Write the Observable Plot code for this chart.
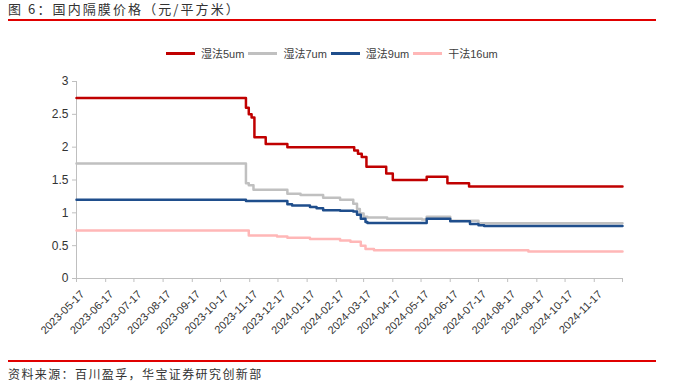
<!DOCTYPE html>
<html>
<head>
<meta charset="utf-8">
<script src="https://cdn.jsdelivr.net/npm/d3@7"></script>
<script src="https://cdn.jsdelivr.net/npm/@observablehq/plot@0.6"></script>
<style>
  html, body { margin: 0; padding: 0; background: #fff; }
  body { width: 690px; height: 387px; position: relative; overflow: hidden;
         font-family: "Liberation Sans", Arial, "Noto Sans CJK SC", sans-serif; color: #333; }
  #title { position: absolute; left: 8px; top: 0px; font-size: 13px; letter-spacing: 2.1px;
           font-family: "Noto Sans CJK SC", sans-serif; color: #333; line-height: 18px; }
  .redline { position: absolute; left: 8px; width: 648px; height: 2px; background: #e00000; }
  #legend { position: absolute; left: 166px; top: 45px; display: flex; align-items: center;
            font-size: 11px; color: #404040; white-space: nowrap; }
  #legend .item { display: flex; align-items: center; margin-right: 4px; }
  #legend .sw { width: 29px; height: 3px; margin-right: 6px; }
  #legend .zh { font-family: "Noto Sans CJK SC", sans-serif; }
  #chart { position: absolute; left: 0; top: 40px; }
  #source { position: absolute; left: 8px; top: 365px; font-size: 12px; letter-spacing: 1.4px;
            font-family: "Noto Sans CJK SC", sans-serif; color: #333; line-height: 18px; }
</style>
</head>
<body>
<div id="title">图 6：国内隔膜价格（元/平方米）</div>
<div class="redline" style="top:19px"></div>
<div id="legend"></div>
<div id="chart"></div>
<div class="redline" style="top:360px"></div>
<div id="source">资料来源：百川盈孚，华宝证券研究创新部</div>
<script>
// ---- data ----
const seriesNames = ["湿法5um", "湿法7um", "湿法9um", "干法16um"];
const seriesColors = ["#c00000", "#c0c0c0", "#1f4e8c", "#ffb7b7"];

const wet5Dates = ["2023-05-17","2023-11-13","2023-11-16","2023-11-19","2023-11-22","2023-12-04","2023-12-27",
  "2024-03-07","2024-03-11","2024-03-15","2024-03-20","2024-04-10","2024-04-17","2024-05-23","2024-06-14","2024-07-07","2024-12-17"];
const wet5Values = [2.75,2.6,2.5,2.45,2.15,2.05,2.0,1.95,1.9,1.85,1.7,1.6,1.5,1.55,1.45,1.4,1.4];

const wet7Dates = ["2023-05-17","2023-11-13","2023-11-16","2023-11-21","2023-12-27","2024-01-10","2024-02-03",
  "2024-02-21","2024-03-06","2024-03-10","2024-03-13","2024-03-17","2024-03-21","2024-04-11","2024-05-18","2024-05-23","2024-06-17","2024-07-17","2024-12-17"];
const wet7Values = [1.75,1.45,1.42,1.35,1.29,1.27,1.23,1.2,1.14,1.06,0.99,0.94,0.93,0.91,0.9,0.94,0.88,0.84,0.84];

const wet9Dates = ["2023-05-17","2023-11-13","2023-12-27","2024-01-01","2024-01-20","2024-01-27","2024-02-03",
  "2024-02-21","2024-03-06","2024-03-10","2024-03-14","2024-03-19","2024-03-21","2024-05-23","2024-06-17","2024-07-08","2024-07-17","2024-07-23","2024-12-17"];
const wet9Values = [1.2,1.18,1.13,1.11,1.09,1.07,1.04,1.03,1.02,0.97,0.91,0.86,0.845,0.91,0.87,0.83,0.81,0.8,0.8];

const dry16Dates = ["2023-05-17","2023-11-16","2023-12-16","2023-12-27","2024-01-20","2024-02-21","2024-03-03",
  "2024-03-14","2024-03-19","2024-03-28","2024-09-08","2024-12-17"];
const dry16Values = [0.73,0.655,0.64,0.62,0.6,0.58,0.56,0.5,0.45,0.43,0.41,0.41];

const xTickLabels = ["2023-05-17","2023-06-17","2023-07-17","2023-08-17","2023-09-17","2023-10-17","2023-11-17",
  "2023-12-17","2024-01-17","2024-02-17","2024-03-17","2024-04-17","2024-05-17","2024-06-17","2024-07-17",
  "2024-08-17","2024-09-17","2024-10-17","2024-11-17"];
const xAxisEnd = "2024-12-17";
const yTicks = [0, 0.5, 1, 1.5, 2, 2.5, 3];

// ---- build ----
const parse = d3.utcParse("%Y-%m-%d");
const allDates = [wet5Dates, wet7Dates, wet9Dates, dry16Dates];
const allValues = [wet5Values, wet7Values, wet9Values, dry16Values];
const rows = [];
seriesNames.forEach((name, k) => {
  allDates[k].forEach((d, i) => rows.push({series: name, date: parse(d), value: allValues[k][i]}));
});
const tickDates = xTickLabels.map(parse).concat([parse(xAxisEnd)]);
const labelSet = new Set(xTickLabels.map(s => +parse(s)));
const fmt = d3.utcFormat("%Y-%m-%d");
const xDomain = [parse(xTickLabels[0]), parse(xAxisEnd)];

const plot = Plot.plot({
  width: 690,
  height: 300,
  marginTop: 41,
  marginBottom: 62,
  marginLeft: 76,
  marginRight: 68,
  style: {fontFamily: "'Liberation Sans', Arial, sans-serif", color: "#333", background: "transparent"},
  x: {type: "utc", domain: xDomain},
  y: {domain: [0, 3]},
  color: {domain: seriesNames, range: seriesColors},
  marks: [
    Plot.ruleY([0], {stroke: "#bfbfbf", strokeWidth: 1}),
    Plot.ruleX([xDomain[0]], {stroke: "#bfbfbf", strokeWidth: 1}),
    Plot.axisY({ticks: yTicks, tickFormat: d => String(d), tickSize: 4, tickPadding: 4, stroke: "#bfbfbf",
                fontSize: 12, fill: "#333", label: null}),
    Plot.axisX({ticks: tickDates, tickSize: 4, tickFormat: null, text: null, stroke: "#bfbfbf", label: null}),
    Plot.axisX({ticks: tickDates, tickFormat: d => labelSet.has(+d) ? fmt(d) : "", tickSize: 0, tickPadding: 14,
                dx: 6, tickRotate: -45, fontSize: 11, fill: "#333", label: null}),
    Plot.line(rows, {x: "date", y: "value", z: "series", stroke: "series", curve: "step-after", strokeWidth: 2.5})
  ]
});
document.getElementById("chart").appendChild(plot);

// legend
const legend = document.getElementById("legend");
seriesNames.forEach((name, k) => {
  const item = document.createElement("div");
  item.className = "item";
  const sw = document.createElement("div");
  sw.className = "sw";
  sw.style.background = seriesColors[k];
  const m = name.match(/^(\D+)(.*)$/);
  const t = document.createElement("span");
  t.innerHTML = `<span class="zh">${m[1]}</span>${m[2]}`;
  item.appendChild(sw); item.appendChild(t);
  legend.appendChild(item);
});
</script>
</body>
</html>
